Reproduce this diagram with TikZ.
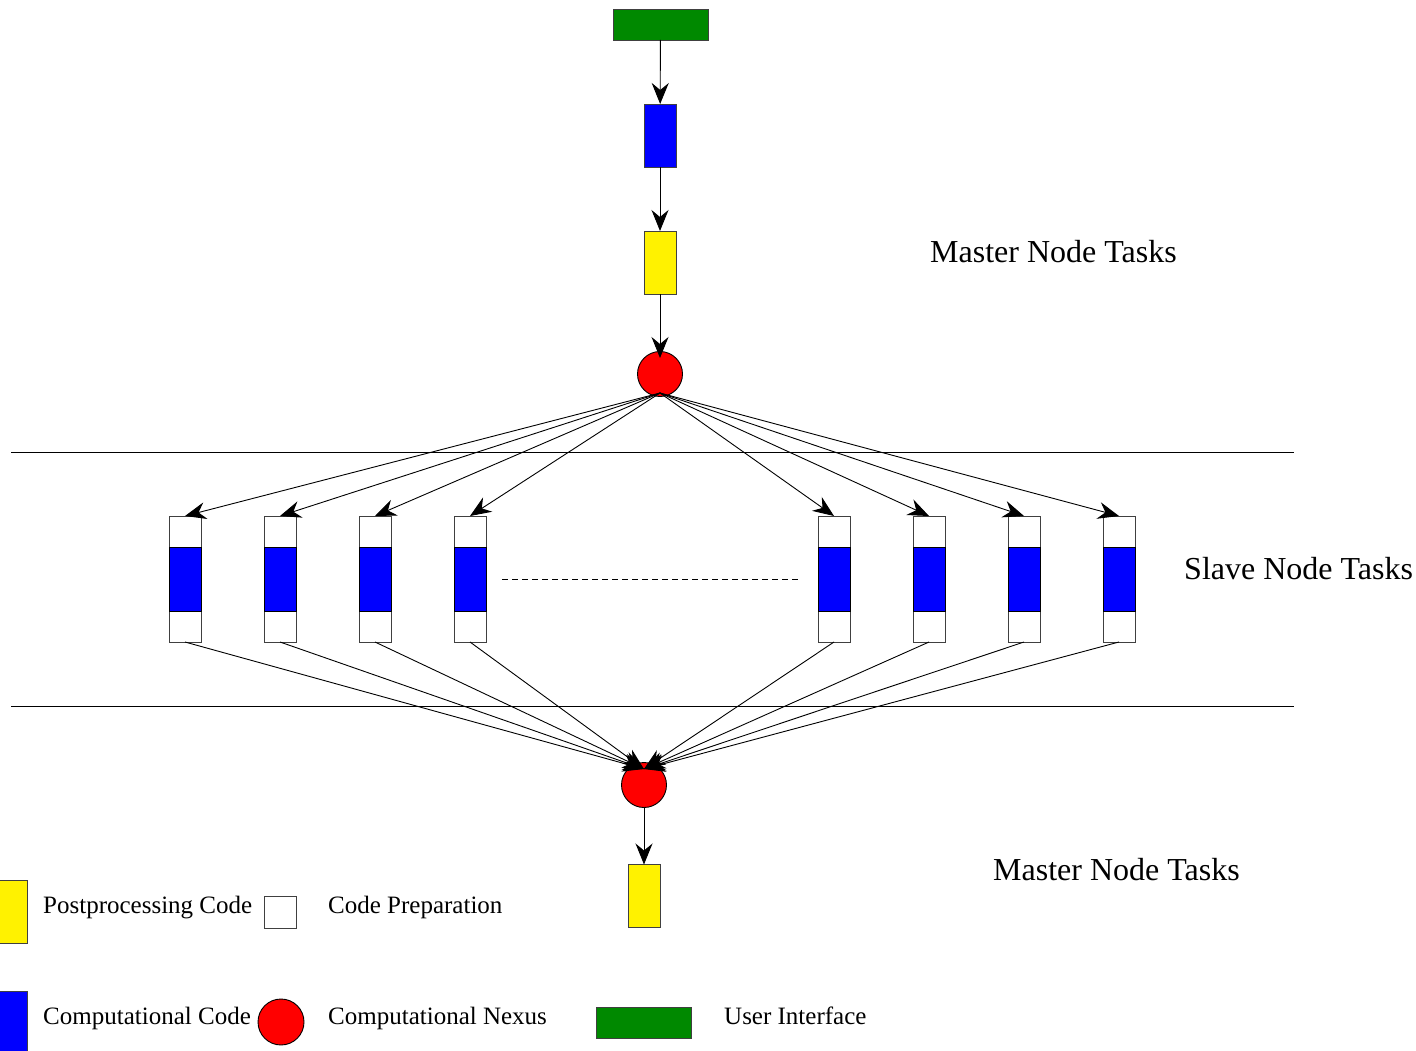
\documentclass[tikz,border=0pt]{standalone}
\usepackage{fontspec}
\setmainfont{Liberation Serif}
\usetikzlibrary{arrows.meta}
\definecolor{uigreen}{RGB}{0,137,0}
\begin{document}
\begin{tikzpicture}[x=1pt,y=-1pt,
 box/.style={draw=black!75, line width=0.9pt, inner sep=0pt, outer sep=0pt},
 arr/.style={-{Stealth[length=21pt,width=17pt,inset=7pt]}, line width=0.9pt},
 lbl/.style={font=\fontsize{25}{30}\selectfont, anchor=base west, inner sep=0pt},
 big/.style={font=\fontsize{32}{36}\selectfont, anchor=base west, inner sep=0pt},
 nexus/.style={circle, draw=black, fill=red, minimum size=45pt, inner sep=0pt, outer sep=0pt, line width=0.9pt},
 slave/.style={box, fill=white, minimum width=32pt, minimum height=126pt},
 slavemid/.style={box, draw=black, fill=blue, minimum width=32pt, minimum height=64pt}]
\useasboundingbox (0,0) rectangle (1416,1051);

% master chain
\node[box, fill=uigreen, minimum width=95pt, minimum height=31pt] (ui) at (660.5,24.5) {};
\node[box, fill=blue, minimum width=32pt, minimum height=63pt] (cc) at (660,135.5) {};
\node[box, fill=yellow, minimum width=32pt, minimum height=63pt] (pp) at (660,262.5) {};
\node[nexus] (nx1) at (660,374) {};
\coordinate (in1) at (660,358);
\draw[arr] (ui) -- (cc);
\draw[arr] (cc) -- (pp);
\draw[arr] (pp) -- (in1);
\coordinate (o1) at (660,393);

% separators
\draw[line width=0.7pt] (11,452) -- (1294,452);
\draw[line width=0.7pt] (11,706) -- (1294,706);

% slave tasks
\foreach \i/\x in {1/185,2/280,3/375,4/470,5/834,6/929,7/1024,8/1119}{
  \node[slave] (s\i) at (\x,579) {};
  \node[slavemid] (m\i) at (\x,579) {};
}
\draw[dashed, dash pattern=on 6pt off 4pt, line width=0.7pt] (502,579) -- (800,579);

% bottom nexus
\node[nexus] (nx2) at (644,785) {};
\coordinate (i2) at (644,769);
\foreach \i in {1,...,8}{
  \draw[arr] (o1) -- (s\i.north);
  \draw[arr] (s\i.south) -- (i2);
}
\node[box, fill=yellow, minimum width=32pt, minimum height=63pt] (pp2) at (644,896) {};
\draw[arr] (nx2.south) -- (pp2.north);

% labels
\node[big] (t1) at (930,262) {Master Node Tasks};
\node[big] (t2) at (1184,579) {Slave Node Tasks};
\node[big] (t3) at (993,880) {Master Node Tasks};

% legend
\node[box, fill=yellow, minimum width=32pt, minimum height=63pt] (lg1) at (11,911.5) {};
\node[lbl] (lt1) at (43,913) {Postprocessing Code};
\node[box, fill=white, minimum width=32pt, minimum height=32pt] (lg2) at (280,912) {};
\node[lbl] (lt2) at (328,913) {Code Preparation};
\node[box, fill=blue, minimum width=32pt, minimum height=63pt] (lg3) at (11,1022.5) {};
\node[lbl] (lt3) at (43,1024) {Computational Code};
\node[nexus, minimum size=46pt] (lg4) at (281,1022) {};
\node[lbl] (lt4) at (328,1024) {Computational Nexus};
\node[box, fill=uigreen, minimum width=95pt, minimum height=31pt] (lg5) at (644,1022.5) {};
\node[lbl] (lt5) at (724,1024) {User Interface};
\end{tikzpicture}
\end{document}
